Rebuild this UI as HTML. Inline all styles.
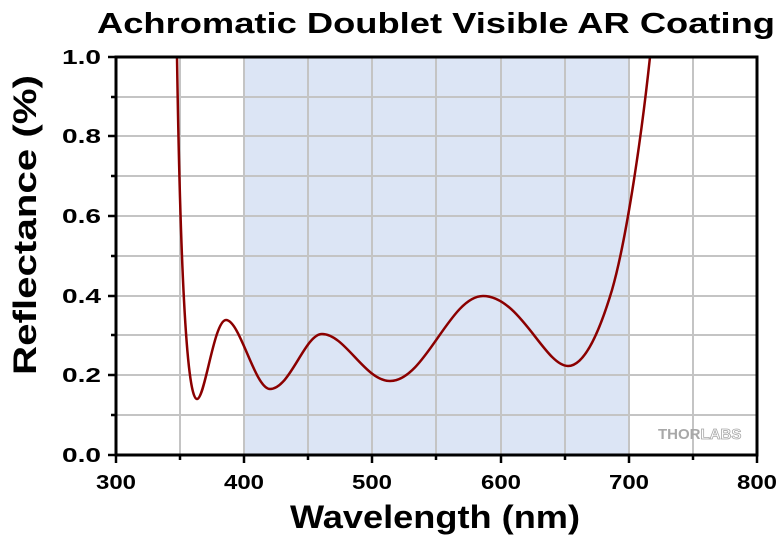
<!DOCTYPE html><html><head><style>body{margin:0;background:#fff}svg{display:block}text{font-family:"Liberation Sans",sans-serif;font-weight:bold}</style></head><body>
<svg width="780" height="537" viewBox="0 0 780 537">
<rect x="244" y="57" width="385" height="398" fill="#dce5f5"/>
<g stroke="#c4c4c4" stroke-width="2">
<line x1="180" y1="57" x2="180" y2="455"/><line x1="244" y1="57" x2="244" y2="455"/><line x1="308" y1="57" x2="308" y2="455"/><line x1="372" y1="57" x2="372" y2="455"/><line x1="436" y1="57" x2="436" y2="455"/><line x1="501" y1="57" x2="501" y2="455"/><line x1="565" y1="57" x2="565" y2="455"/><line x1="629" y1="57" x2="629" y2="455"/><line x1="693" y1="57" x2="693" y2="455"/>
<line x1="116" y1="97" x2="757" y2="97"/><line x1="116" y1="136" x2="757" y2="136"/><line x1="116" y1="176" x2="757" y2="176"/><line x1="116" y1="216" x2="757" y2="216"/><line x1="116" y1="256" x2="757" y2="256"/><line x1="116" y1="296" x2="757" y2="296"/><line x1="116" y1="335" x2="757" y2="335"/><line x1="116" y1="375" x2="757" y2="375"/><line x1="116" y1="415" x2="757" y2="415"/>
</g>
<path d="M177,57 C180,250 186,399 197,399 C205,399 214,320 226,320 C240,320 255,389 270,389 C290,389 305,334 322,334 C345,334 365,381 390,381 C425,381 450,296 483,296 C520,296 545,366 568,366 C585,366 600,330 612,290 C625,245 640,150 650,57" fill="none" stroke="#8b0000" stroke-width="2.5"/>
<rect x="116" y="57" width="641" height="398" fill="none" stroke="#000" stroke-width="3"/>
<g stroke="#000" stroke-width="2.5">
<line x1="116" y1="455" x2="116" y2="463"/><line x1="244" y1="455" x2="244" y2="463"/><line x1="372" y1="455" x2="372" y2="463"/><line x1="501" y1="455" x2="501" y2="463"/><line x1="629" y1="455" x2="629" y2="463"/><line x1="757" y1="455" x2="757" y2="463"/>
<line x1="180" y1="455" x2="180" y2="460"/><line x1="308" y1="455" x2="308" y2="460"/><line x1="436" y1="455" x2="436" y2="460"/><line x1="565" y1="455" x2="565" y2="460"/><line x1="693" y1="455" x2="693" y2="460"/>
<line x1="108" y1="57" x2="116" y2="57"/><line x1="108" y1="136" x2="116" y2="136"/><line x1="108" y1="216" x2="116" y2="216"/><line x1="108" y1="296" x2="116" y2="296"/><line x1="108" y1="375" x2="116" y2="375"/><line x1="108" y1="455" x2="116" y2="455"/>
<line x1="111" y1="97" x2="116" y2="97"/><line x1="111" y1="176" x2="116" y2="176"/><line x1="111" y1="256" x2="116" y2="256"/><line x1="111" y1="335" x2="116" y2="335"/><line x1="111" y1="415" x2="116" y2="415"/>
</g>
<g font-size="20">
<text x="62" y="64" textLength="39" lengthAdjust="spacingAndGlyphs">1.0</text><text x="62" y="143" textLength="39" lengthAdjust="spacingAndGlyphs">0.8</text><text x="62" y="223" textLength="39" lengthAdjust="spacingAndGlyphs">0.6</text><text x="62" y="303" textLength="39" lengthAdjust="spacingAndGlyphs">0.4</text><text x="62" y="382" textLength="39" lengthAdjust="spacingAndGlyphs">0.2</text><text x="62" y="462" textLength="39" lengthAdjust="spacingAndGlyphs">0.0</text>
</g>
<g font-size="20">
<text x="96" y="489" textLength="40" lengthAdjust="spacingAndGlyphs">300</text><text x="224" y="489" textLength="40" lengthAdjust="spacingAndGlyphs">400</text><text x="352" y="489" textLength="40" lengthAdjust="spacingAndGlyphs">500</text><text x="481" y="489" textLength="40" lengthAdjust="spacingAndGlyphs">600</text><text x="609" y="489" textLength="40" lengthAdjust="spacingAndGlyphs">700</text><text x="737" y="489" textLength="40" lengthAdjust="spacingAndGlyphs">800</text>
</g>
<text x="97" y="33" font-size="29" textLength="678" lengthAdjust="spacingAndGlyphs">Achromatic Doublet Visible AR Coating</text>
<text x="290" y="528" font-size="32" textLength="290" lengthAdjust="spacingAndGlyphs">Wavelength (nm)</text>
<text transform="translate(36,375) rotate(-90)" font-size="32" textLength="300" lengthAdjust="spacingAndGlyphs">Reflectance (%)</text>
<text x="658" y="439" font-size="15" fill="#a8a8a8">THOR<tspan fill="#fff" stroke="#a8a8a8" stroke-width="0.8">LABS</tspan></text>
</svg></body></html>
